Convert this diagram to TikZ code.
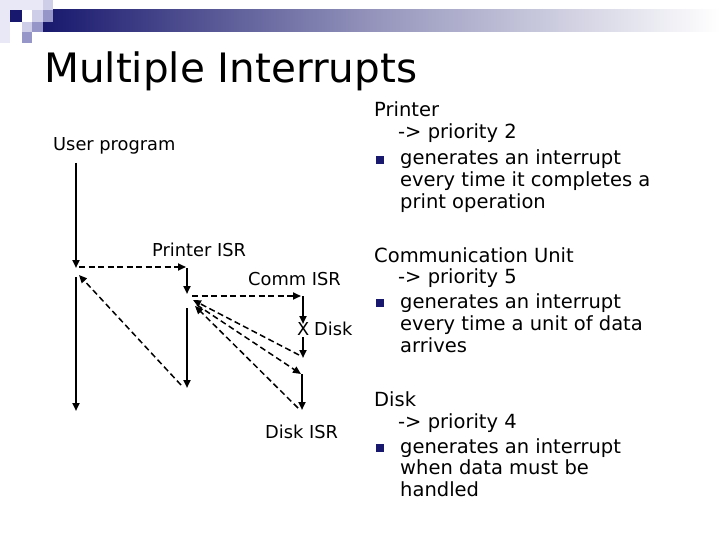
\documentclass[tikz,border=0pt]{standalone}
\usepackage{fontspec}
\setmainfont{DejaVu Sans}
\usetikzlibrary{arrows.meta}
\definecolor{navy}{RGB}{24,24,110}
\definecolor{sqlight}{RGB}{206,206,232}
\definecolor{sqmed}{RGB}{150,150,200}
\definecolor{sqfaint}{RGB}{232,232,246}
\tikzset{
  solidarrow/.style={line width=2pt,-{Triangle[length=8pt,width=7pt]}},
  hdash/.style={line width=1.8pt,dash pattern=on 6pt off 3.5pt,-{Triangle[length=8pt,width=7pt]}},
  ddash/.style={line width=1.5pt,dash pattern=on 6pt off 3.5pt,-{Triangle[length=8pt,width=7pt]}},
  lbl/.style={anchor=base west,inner sep=0pt,font=\fontsize{17.8}{20}\selectfont},
  body/.style={anchor=base west,inner sep=0pt,font=\fontsize{19.5}{22}\selectfont},
  bulletsq/.style={fill=navy,draw=none,minimum size=7.5pt,inner sep=0pt}
}
\begin{document}
\begin{tikzpicture}[x=1pt,y=-1pt]
\useasboundingbox (0,0) rectangle (720,540);
\fill[white] (0,0) rectangle (720,540);
% header bar and squares
\shade[left color=navy,right color=white,middle color=navy!45!white] (43,10) rectangle (720,32);
\fill[sqfaint] (0,0) rectangle (10,43);
\fill[sqfaint] (10,0) rectangle (43,10);
\fill[navy] (10,10) rectangle (22,22);
\fill[sqlight] (43,0) rectangle (53,10);
\fill[sqlight] (32,10) rectangle (43,22);
\fill[sqmed] (43,10) rectangle (53,22);
\fill[sqlight] (22,22) rectangle (32,32);
\fill[sqmed] (32,22) rectangle (43,32);
\fill[sqmed] (22,32) rectangle (32,43);
% title
\node[anchor=base west,inner sep=0pt,font=\fontsize{40.5}{44}\selectfont] (title) at (44,83) {Multiple Interrupts};
% labels
\node[lbl] (user) at (53,151) {User program};
\node[lbl] (pisr) at (152,256) {Printer ISR};
\node[lbl] (cisr) at (248,285) {Comm ISR};
\node[lbl] (xmark) at (297,335) {X};
\node[lbl] (disk) at (314,335) {Disk};
\node[lbl] (disr) at (265,438) {Disk ISR};
% coordinates
\coordinate (u1a) at (76,163);
\coordinate (u1b) at (76,268);
\coordinate (d1a) at (79,267);
\coordinate (d1b) at (186,267);
\coordinate (p1a) at (187,268);
\coordinate (p1b) at (187,294);
\coordinate (d2a) at (192,296);
\coordinate (d2b) at (301,296);
\coordinate (c1a) at (303,296);
\coordinate (c1b) at (303,324);
\coordinate (c2a) at (303,337);
\coordinate (c2b) at (303,358);
\coordinate (r1a) at (299,355);
\coordinate (r1b) at (193,300);
\coordinate (s1a) at (197,305);
\coordinate (s1b) at (301,374);
\coordinate (k1a) at (302,374);
\coordinate (k1b) at (302,410);
\coordinate (r2a) at (298,408);
\coordinate (r2b) at (195,306);
\coordinate (p2a) at (187,308);
\coordinate (p2b) at (187,388);
\coordinate (r3a) at (181,385);
\coordinate (r3b) at (79,275);
\coordinate (u2a) at (76,277);
\coordinate (u2b) at (76,411);
% connectors
\draw[solidarrow] (u1a) -- (u1b);
\draw[hdash] (d1a) -- (d1b);
\draw[solidarrow] (p1a) -- (p1b);
\draw[hdash] (d2a) -- (d2b);
\draw[solidarrow] (c1a) -- (c1b);
\draw[solidarrow] (c2a) -- (c2b);
\draw[ddash] (r1a) -- (r1b);
\draw[ddash] (s1a) -- (s1b);
\draw[solidarrow] (k1a) -- (k1b);
\draw[ddash] (r2a) -- (r2b);
\draw[solidarrow] (p2a) -- (p2b);
\draw[ddash] (r3a) -- (r3b);
\draw[solidarrow] (u2a) -- (u2b);
% right text: printer
\node[body] (t1) at (374,117) {Printer};
\node[body] (t2) at (398,139) {-> priority 2};
\node[bulletsq] (b1) at (380,160) {};
\node[body] (t3) at (400,165) {generates an interrupt};
\node[body] (t4) at (400,187) {every time it completes a};
\node[body] (t5) at (400,208) {print operation};
% communication
\node[body] (t6) at (374,262) {Communication Unit};
\node[body] (t7) at (398,283) {-> priority 5};
\node[bulletsq] (b2) at (380,303) {};
\node[body] (t8) at (400,308) {generates an interrupt};
\node[body] (t9) at (400,330) {every time a unit of data};
\node[body] (t10) at (400,352) {arrives};
% disk
\node[body] (t11) at (374,406) {Disk};
\node[body] (t12) at (398,428) {-> priority 4};
\node[bulletsq] (b3) at (380,448) {};
\node[body] (t13) at (400,453) {generates an interrupt};
\node[body] (t14) at (400,474) {when data must be};
\node[body] (t15) at (400,496) {handled};
\end{tikzpicture}
\end{document}
